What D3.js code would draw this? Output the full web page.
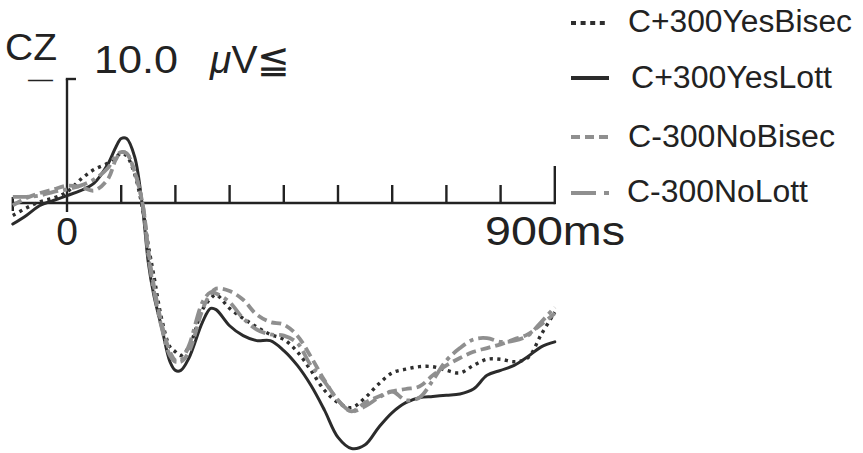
<!DOCTYPE html>
<html>
<head>
<meta charset="utf-8">
<script src="https://cdn.jsdelivr.net/npm/d3@7"></script>
<style>
  html, body { margin: 0; padding: 0; background: #fff; }
  svg { display: block; }
  text { font-family: "Liberation Sans", Arial, sans-serif; fill: #222; }
</style>
</head>
<body>
<svg id="chart" width="863" height="453"></svg>
<script>
// ---- data (ms, microvolts; negative plotted up) ----
const times = [-100,-75,-50,-25,0,25,50,75,90,100,110,125,140,150,160,175,190,200,210,225,250,265,275,
  300,325,350,375,400,425,450,475,500,525,550,575,600,625,650,675,700,725,750,775,800,825,850,875,900];

const yesBisec = [1.0,0.4,-0.1,-0.4,-0.9,-1.9,-2.7,-3.2,-3.7,-4.0,-3.8,-2.3,0.6,3.4,5.8,9.4,11.6,12.0,12.3,11.6,8.6,7.7,7.4,
  8.5,9.3,10.0,10.6,11.0,12.0,13.5,15.1,16.1,16.5,15.7,14.6,13.7,13.4,13.2,13.2,13.5,13.7,13.1,12.6,12.6,12.8,12.5,10.6,8.8];

const yesLott = [1.7,1.0,0.2,-0.2,-0.6,-1.0,-1.6,-3.1,-4.5,-5.2,-5.2,-3.7,0.6,4.8,7.4,10.1,12.8,13.5,13.5,12.5,9.6,8.5,8.6,
  9.9,10.7,11.1,11.1,11.9,13.1,14.7,16.7,18.9,19.8,19.5,18.1,16.9,16.1,15.7,15.6,15.5,15.4,15.0,13.9,13.5,13.1,12.4,11.6,11.2];

const noBisec = [0.2,-0.4,-0.8,-1.1,-1.4,-1.3,-1.0,-1.9,-3.5,-4.1,-4.0,-2.5,0.2,3.8,6.6,9.8,12.0,12.7,12.8,12.0,8.6,7.3,6.9,
  7.1,7.8,9.0,9.6,9.8,10.7,12.4,14.3,15.9,16.8,16.1,15.6,15.2,15.0,14.8,13.9,13.1,12.5,12.0,11.7,11.4,11.0,10.6,9.8,8.9];

const noLott = [-0.5,-0.5,-0.6,-0.9,-1.1,-1.4,-1.9,-2.8,-3.8,-4.1,-4.0,-2.5,0.2,4.2,7.0,10.1,12.3,12.8,12.7,11.5,8.0,7.2,7.3,
  8.0,9.3,10.2,10.6,10.7,11.3,13.1,14.4,15.9,16.8,16.4,15.7,15.2,15.9,15.7,14.3,12.7,11.7,11.0,10.9,11.2,11.1,10.7,9.6,8.4];

const seriesNames = ["C+300YesBisec", "C+300YesLott", "C-300NoBisec", "C-300NoLott"];
const xTicks = [-100, 0, 100, 200, 300, 400, 500, 600, 700, 800, 900];
const channelLabel = "CZ";
const polarityLabel = "—";
const scaleLabel = "10.0";
const unitLabel = "V≦";
const xLabelStart = "0";
const xLabelEnd = "900ms";
const scaleValue = -10;

// ---- styles ----
const styles = [
  { color: "#2e2e2e", width: 3.4, dash: "3.2,4.4", legendDash: "5,4.6", cap: "butt" },
  { color: "#2b2b2b", width: 3.0, dash: null, legendDash: null, cap: "round" },
  { color: "#8f8f8f", width: 3.8, dash: "10,5", legendDash: "9,5", cap: "butt" },
  { color: "#8f8f8f", width: 3.8, dash: "16,5,4,5", legendDash: "25,8,5,8", cap: "butt" }
];
const seriesData = [yesBisec, yesLott, noBisec, noLott];

const svg = d3.select("#chart");
const x = d3.scaleLinear().domain([-100, 900]).range([12.8, 554.8]);
const y = d3.scaleLinear().domain([0, -10]).range([203, 79]);

// ---- axes ----
const axisColor = "#222";
const ax = svg.append("g").attr("stroke", axisColor).attr("stroke-width", 2.4).attr("fill", "none");
ax.append("line").attr("x1", x(-100)).attr("x2", x(900)).attr("y1", y(0)).attr("y2", y(0));
xTicks.forEach(t => {
  if (t === -100) {
    ax.append("line").attr("x1", x(t)).attr("x2", x(t)).attr("y1", y(0) - 6).attr("y2", y(0) + 8);
  } else if (t === 0) {
    ax.append("line").attr("x1", x(t)).attr("x2", x(t)).attr("y1", y(scaleValue)).attr("y2", y(0) + 9);
    ax.append("line").attr("x1", x(t) - 1.2).attr("x2", x(t) + 9).attr("y1", y(scaleValue)).attr("y2", y(scaleValue));
  } else if (t === 900) {
    ax.append("line").attr("x1", x(t)).attr("x2", x(t)).attr("y1", y(0) + 1.2).attr("y2", y(0) - 37);
  } else {
    ax.append("line").attr("x1", x(t)).attr("x2", x(t)).attr("y1", y(0)).attr("y2", y(0) - 18);
  }
});

// ---- curves ----
const line = d3.line().x(d => x(d[0])).y(d => y(d[1])).curve(d3.curveCatmullRom.alpha(0.5));
const drawOrder = [1, 0, 2, 3];
drawOrder.forEach(i => {
  const pts = times.map((t, k) => [t, seriesData[i][k]]);
  const p = svg.append("path").datum(pts).attr("d", line)
    .attr("fill", "none").attr("stroke", styles[i].color)
    .attr("stroke-width", styles[i].width).attr("stroke-linecap", styles[i].cap)
    .attr("stroke-linejoin", "round");
  if (styles[i].dash) p.attr("stroke-dasharray", styles[i].dash);
});

// ---- labels ----
svg.append("text").attr("x", 5).attr("y", 60).attr("font-size", 37)
  .attr("textLength", 52).attr("lengthAdjust", "spacingAndGlyphs").text(channelLabel);
svg.append("text").attr("x", 28).attr("y", 85).attr("font-size", 15).attr("font-weight", "bold")
  .attr("textLength", 25).attr("lengthAdjust", "spacingAndGlyphs").text(polarityLabel);
svg.append("text").attr("x", 94).attr("y", 73).attr("font-size", 39)
  .attr("textLength", 84).attr("lengthAdjust", "spacingAndGlyphs").text(scaleLabel);
const unit = svg.append("text").attr("x", 210).attr("y", 73).attr("font-size", 39);
unit.append("tspan").attr("font-style", "italic").text("μ");
unit.append("tspan").text(unitLabel);
svg.append("text").attr("x", x(0)).attr("y", 245).attr("font-size", 39)
  .attr("text-anchor", "middle").text(xLabelStart);
svg.append("text").attr("x", 485).attr("y", 245).attr("font-size", 41)
  .attr("textLength", 140).attr("lengthAdjust", "spacingAndGlyphs").text(xLabelEnd);

// ---- legend ----
const legendRows = [
  { ly: 23, ty: 32, tx: 628, tw: 224 },
  { ly: 78, ty: 88, tx: 631, tw: 201 },
  { ly: 137, ty: 147, tx: 628, tw: 207 },
  { ly: 193, ty: 202, tx: 627, tw: 181 }
];
seriesNames.forEach((name, i) => {
  const r = legendRows[i];
  const g = svg.append("g");
  const l = g.append("line").attr("x1", 571).attr("x2", 609).attr("y1", r.ly).attr("y2", r.ly)
    .attr("stroke", styles[i].color).attr("stroke-width", i === 1 ? 4 : 4.2);
  if (styles[i].legendDash) l.attr("stroke-dasharray", styles[i].legendDash);
  g.append("text").attr("x", r.tx).attr("y", r.ty).attr("font-size", 31)
    .attr("textLength", r.tw).attr("lengthAdjust", "spacingAndGlyphs").text(name);
});
</script>
</body>
</html>
